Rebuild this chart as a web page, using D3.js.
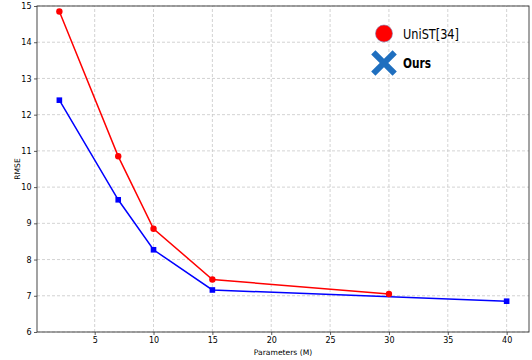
<!DOCTYPE html>
<html>
<head>
<meta charset="utf-8">
<script src="https://cdn.jsdelivr.net/npm/d3@7"></script>
<style>
  html, body { margin: 0; padding: 0; background: #fff; }
  svg { display: block; }
  .tick text { font-family: "DejaVu Sans", sans-serif; font-size: 8px; fill: #000; }
  .legend-text { font-family: "DejaVu Sans Condensed", "DejaVu Sans", sans-serif; }
</style>
</head>
<body>
<svg id="chart" width="532" height="360"></svg>
<script>
// Model size (millions of parameters) vs. RMSE
const unistParams = [2, 7, 10, 15, 30];
const unistRmse   = [14.85, 10.85, 8.85, 7.45, 7.05];
const oursParams  = [2, 7, 10, 15, 40];
const oursRmse    = [12.4, 9.65, 8.27, 7.16, 6.85];
const xTicks = [5, 10, 15, 20, 25, 30, 35, 40];
const yTicks = [6, 7, 8, 9, 10, 11, 12, 13, 14, 15];
const legendLabels = ["UniST[34]", "Ours"];

const svg = d3.select("#chart");
const margin = { left: 37, right: 3, top: 6, bottom: 28 };
const W = 532, H = 360;
const x = d3.scaleLinear().domain([0.1, 41.9]).range([margin.left, W - margin.right]);
const y = d3.scaleLinear().domain([6, 15]).range([H - margin.bottom, margin.top]);

// grid
const grid = svg.append("g").attr("stroke", "#c8c8c8").attr("stroke-dasharray", "3,2").attr("stroke-width", 0.8);
xTicks.forEach(t => grid.append("line").attr("x1", x(t)).attr("x2", x(t)).attr("y1", y(6)).attr("y2", y(15)));
yTicks.forEach(t => grid.append("line").attr("x1", x.range()[0]).attr("x2", x.range()[1]).attr("y1", y(t)).attr("y2", y(t)));

// axes
const xAxis = svg.append("g").attr("transform", `translate(0,${y(6)})`)
  .call(d3.axisBottom(x).tickValues(xTicks).tickSize(3).tickPadding(2.5));
const yAxis = svg.append("g").attr("transform", `translate(${x.range()[0]},0)`)
  .call(d3.axisLeft(y).tickValues(yTicks).tickSize(3).tickPadding(2.5));
[xAxis, yAxis].forEach(a => { a.select(".domain").remove(); a.selectAll(".tick line").attr("stroke", "#333").attr("stroke-width", 0.8); });

// frame
svg.append("rect").attr("x", x.range()[0]).attr("y", y(15))
  .attr("width", x.range()[1] - x.range()[0]).attr("height", y(6) - y(15))
  .attr("fill", "none").attr("stroke", "#333").attr("stroke-width", 0.9);

const line = d3.line().x(d => x(d[0])).y(d => y(d[1]));
const unist = unistParams.map((p, i) => [p, unistRmse[i]]);
const ours = oursParams.map((p, i) => [p, oursRmse[i]]);

svg.append("path").datum(unist).attr("d", line).attr("fill", "none").attr("stroke", "#ff0000").attr("stroke-width", 1.5);
svg.append("path").datum(ours).attr("d", line).attr("fill", "none").attr("stroke", "#0000ff").attr("stroke-width", 1.5);

svg.selectAll(".m-unist").data(unist).enter().append("circle")
  .attr("cx", d => x(d[0])).attr("cy", d => y(d[1])).attr("r", 3.2).attr("fill", "#ff0000");
svg.selectAll(".m-ours").data(ours).enter().append("rect")
  .attr("x", d => x(d[0]) - 2.8).attr("y", d => y(d[1]) - 2.8).attr("width", 5.6).attr("height", 5.6).attr("fill", "#0000ff");

// axis titles
svg.append("text").attr("x", (x.range()[0] + x.range()[1]) / 2).attr("y", 355)
  .attr("text-anchor", "middle").attr("font-family", "DejaVu Sans, sans-serif").attr("font-size", 7.6).text("Parameters (M)");
svg.append("text").attr("transform", `translate(20,${(y(6) + y(15)) / 2}) rotate(-90)`)
  .attr("text-anchor", "middle").attr("font-family", "DejaVu Sans, sans-serif").attr("font-size", 7.6).text("RMSE");

// legend
const lg = svg.append("g");
lg.append("circle").attr("cx", 384).attr("cy", 33.5).attr("r", 8.5).attr("fill", "#ff0000").attr("stroke", "#8080b0").attr("stroke-width", 0.6);
const cross = d3.symbol().type(d3.symbolX).size(300);
lg.append("path").attr("d", cross()).attr("transform", "translate(384,63)")
  .attr("fill", "none").attr("stroke", "#1f6fbf").attr("stroke-width", 6).attr("stroke-linecap", "butt");
lg.append("text").attr("class", "legend-text").attr("x", 403).attr("y", 38.5).attr("font-size", 14)
  .attr("textLength", 56).attr("lengthAdjust", "spacingAndGlyphs").text(legendLabels[0]);
lg.append("text").attr("class", "legend-text").attr("x", 403).attr("y", 68).attr("font-size", 14).attr("font-weight", "bold")
  .attr("textLength", 28).attr("lengthAdjust", "spacingAndGlyphs").text(legendLabels[1]);
</script>
</body>
</html>
